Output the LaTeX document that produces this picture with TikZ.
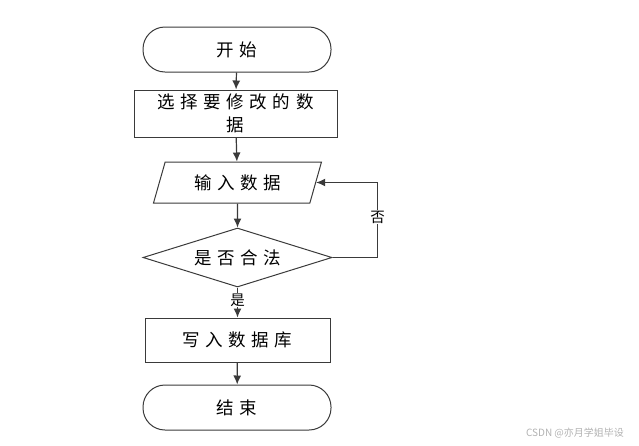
\documentclass[tikz,border=0pt]{standalone}
\usepackage{fontspec}
\newfontfamily\cjk{Noto Sans CJK SC}[LetterSpace=32]
\newfontfamily\cjklabel{Noto Sans CJK SC}
\usepackage{tikz}
\usetikzlibrary{shapes.geometric, positioning, arrows.meta}

\definecolor{linegray}{HTML}{3A3A3A}
\tikzset{
    base/.style={draw=linegray, line width=1pt, font=\cjk\fontsize{17.5}{23}\selectfont, text=black},
    terminal/.style={base, rounded corners=22pt, minimum width=188pt, minimum height=45pt},
    procbox/.style={base, rectangle, minimum height=44pt, inner sep=2pt},
    iobox/.style={base, trapezium, trapezium left angle=63, trapezium right angle=117,
        trapezium stretches body, minimum width=168pt, minimum height=41pt},
    decision/.style={base, diamond, aspect=3.2, inner sep=0pt, minimum width=189pt, minimum height=59pt},
    flow/.style={->, draw=linegray, line width=1.2pt},
    yesno/.style={fill=white, inner sep=1pt, font=\cjklabel\fontsize{14.5}{16}\selectfont}
}

\begin{document}
\begin{tikzpicture}[>={Latex[length=9pt, width=8pt]}, x=1pt, y=-1pt]
    \useasboundingbox (0,0) rectangle (639,445);

    % 1. Các khối
    \node[terminal] (start) at (237,49.5) {开始};
    \node[procbox, minimum width=203pt, minimum height=47pt, align=center] (select) at (235.5,113.5) {选择要修改的数\\据};
    \node[iobox] (input) at (237.5,182.5) {输入数据};
    \node[decision] (check) at (237.5,257.5) {是否合法};
    \node[procbox, minimum width=185pt] (write) at (237.5,340) {写入数据库};
    \node[terminal] (stop) at (237,407.5) {结束};

    % 2. Các mũi tên
    \draw[flow] (start) -- (select);
    \draw[flow] (select) -- (input);
    \draw[flow] (input) -- (check);
    \draw[flow] (check) -- node[yesno, pos=0.42] {是} (write);
    \draw[flow] (write) -- (stop);
    \draw[flow] (check.east) -- ++(45,0)
        |- node[yesno, pos=0.27] {否} (input.east);

    % 3. Chữ mờ
    \node[text=gray!60, font=\cjklabel\fontsize{10}{11}\selectfont] (mark) at (575,433) {CSDN @亦月学姐毕设};
\end{tikzpicture}
\end{document}
